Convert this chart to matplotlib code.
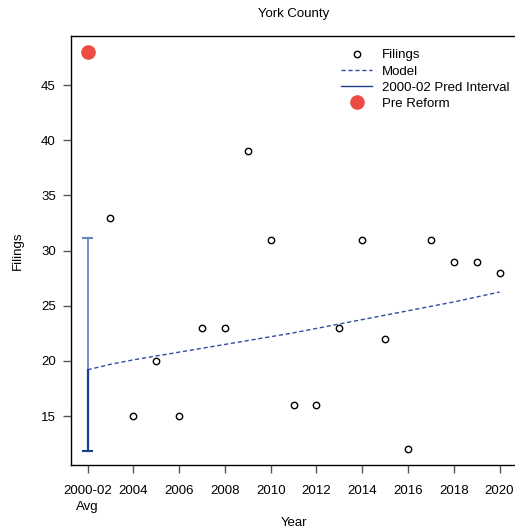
import numpy as np
import matplotlib.pyplot as plt
from matplotlib.lines import Line2D

plt.rcParams['font.family'] = ['Liberation Sans', 'DejaVu Sans']

# data
years = [2003, 2004, 2005, 2006, 2007, 2008, 2009, 2010, 2011, 2012,
         2013, 2014, 2015, 2016, 2017, 2018, 2019, 2020]
filings = [33, 15, 20, 15, 23, 23, 39, 31, 16, 16,
           23, 31, 22, 12, 31, 29, 29, 28]

model_years = [2002, 2003, 2004, 2005, 2006, 2007, 2008, 2009, 2010, 2011,
               2012, 2013, 2014, 2015, 2016, 2017, 2018, 2019, 2020]
model_vals = [19.2, 19.7, 20.1, 20.45, 20.8, 21.15, 21.5, 21.85, 22.2, 22.55,
              22.95, 23.35, 23.75, 24.15, 24.55, 24.95, 25.35, 25.8, 26.25]

pre_year = 2002
pre_value = 48
pi_low, pi_high = 11.85, 31.1

xticks = [2002, 2004, 2006, 2008, 2010, 2012, 2014, 2016, 2018, 2020]
xlabels = ['2000-02\nAvg', '2004', '2006', '2008', '2010', '2012', '2014',
           '2016', '2018', '2020']
yticks = [15, 20, 25, 30, 35, 40, 45]

dark_blue = '#1a3f8f'
light_blue = '#6a85bf'
red = '#ee4b44'

fig = plt.figure(figsize=(5.15, 5.31), dpi=100)
ax = fig.add_axes([0.138, 0.124, 0.864, 0.808])

# prediction interval (lower part drawn darker, as in the original)
ax.plot([pre_year, pre_year], [model_vals[0], pi_high], color=light_blue, lw=1.3)
ax.plot([pre_year, pre_year], [pi_low, model_vals[0]], color=dark_blue, lw=1.6)
ax.plot([pre_year - 0.2, pre_year + 0.2], [pi_high, pi_high], color=light_blue, lw=1.5)
ax.plot([pre_year - 0.2, pre_year + 0.2], [pi_low, pi_low], color=dark_blue, lw=1.5)

ax.plot(model_years, model_vals, color='#2e4f9e', lw=1.0, ls=(0, (3, 2)))
ax.plot(years, filings, 'o', mfc='none', mec='black', ms=4.6, mew=1.0)
ax.plot([pre_year], [pre_value], 'o', color=red, ms=9.5)

ax.set_xlim(2001.28, 2020.72)
ax.set_ylim(10.56, 49.44)
ax.set_xticks(xticks)
ax.set_xticklabels(xlabels, linespacing=1.5)
ax.set_yticks(yticks)
ax.tick_params(direction='out', length=6, width=1, labelsize=9.5, color='#555555')
ax.tick_params(axis='x', pad=8)
ax.tick_params(axis='y', pad=5)
ax.spines['right'].set_visible(False)
for s in ['top', 'left', 'bottom']:
    ax.spines[s].set_linewidth(1.0)

ax.set_title('York County', fontsize=9.5, pad=14)
ax.set_xlabel('Year', fontsize=9.5, labelpad=3)
ax.set_ylabel('Filings', fontsize=9.5, labelpad=12)

handles = [
    Line2D([], [], marker='o', ls='none', mfc='none', mec='black', ms=4.6, mew=1.0),
    Line2D([], [], color='#2e4f9e', lw=1.0, ls=(0, (3, 2))),
    Line2D([], [], color=dark_blue, lw=1.0),
    Line2D([], [], marker='o', ls='none', color=red, ms=9.5),
]
labels = ['Filings', 'Model', '2000-02 Pred Interval', 'Pre Reform']
fig.legend(handles, labels, loc='upper left', bbox_to_anchor=(0.65, 0.92),
           frameon=False, fontsize=9.5, handlelength=2.3, labelspacing=0.3,
           handletextpad=0.8, borderpad=0)

fig.savefig('out.png', dpi=100)
